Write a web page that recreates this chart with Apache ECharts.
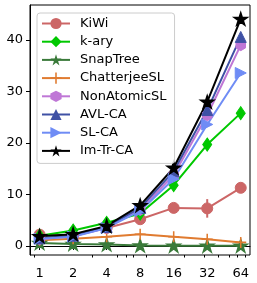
<!DOCTYPE html>
<html><head><meta charset="utf-8">
<script src="https://cdn.jsdelivr.net/npm/echarts@6/dist/echarts.min.js"></script>
<style>html,body{margin:0;padding:0;background:#fff}#c{width:257px;height:283px}</style>
</head><body><div id="c"></div>
<script>
var threads = [1, 2, 4, 8, 16, 32, 64];
var xTickLabels = [1, 2, 4, 8, 16, 32, 64];
var xMinorTicks = [0.9, 3, 5, 6, 7, 9, 20, 30, 40, 50, 60, 70];
var yTickLabels = [0, 10, 20, 30, 40];
var kiwi = [2.2, 2.0, 3.5, 5.2, 7.4, 7.3, 11.3];
var kiwiErr = [0.3, 0.2, 0.2, 0.4, 0.5, 1.8, 0.4];
var kary = [2.0, 3.0, 4.5, 6.3, 11.8, 19.7, 25.8];
var snapTree = [0.6, 0.4, 0.3, 0.1, 0.05, 0.05, 0.05];
var chatterjee = [1.1, 1.4, 1.8, 2.3, 1.8, 1.3, 0.7];
var nonAtomic = [1.3, 1.9, 3.5, 7.0, 13.8, 25.4, 39.0];
var avlCA = [1.5, 2.0, 3.7, 7.4, 14.5, 26.4, 40.6];
var slCA = [1.4, 1.8, 3.5, 6.8, 13.0, 23.6, 33.6];
var imTrCA = [1.9, 2.3, 3.9, 7.9, 15.2, 28.0, 44.1];

var STAR = 'path://M50 0 L61.23 34.55 L97.55 34.55 L68.16 55.9 L79.39 90.45 L50 69.1 L20.61 90.45 L31.84 55.9 L2.45 34.55 L38.77 34.55 Z';
var HEX = 'path://M50 0 L93.3 25 L93.3 75 L50 100 L6.7 75 L6.7 25 Z';
var PLUS = 'path://M43 0 H57 V43 H100 V57 H57 V100 H43 V57 H0 V43 H43 Z';

function pairs(arr) { return threads.map(function (t, i) { return [t, arr[i]]; }); }

function lineSeries(name, arr, color, symbol, size, extra, border) {
  var s = {
    name: name, type: 'line', data: pairs(arr),
    symbol: symbol, symbolSize: size, symbolKeepAspect: true,
    lineStyle: { color: color, width: 2 },
    itemStyle: { color: color, borderColor: color, borderWidth: border == null ? 1 : border },
    emphasis: { disabled: true },
    animation: false
  };
  if (extra) for (var k in extra) s[k] = extra[k];
  return s;
}

var errData = threads.map(function (t, i) { return [t, kiwi[i] - kiwiErr[i], kiwi[i] + kiwiErr[i]]; });

var chart = echarts.init(document.getElementById('c'), null, { renderer: 'canvas' });
chart.setOption({
  animation: false,
  backgroundColor: '#fff',
  textStyle: { fontFamily: 'DejaVu Sans' },
  grid: { left: 30, right: 7, top: 5, bottom: 28, show: true, borderColor: '#000', borderWidth: 1, outerBoundsMode: 'none' },
  legend: {
    left: 37, top: 13, orient: 'vertical',
    itemWidth: 28, itemHeight: 14, itemGap: 5.2,
    padding: [4, 8, 6, 4],
    borderColor: '#cccccc', borderWidth: 1, borderRadius: 3,
    backgroundColor: 'rgba(255,255,255,0.85)',
    itemStyle: { borderWidth: 0 },
    textStyle: { fontSize: 13, color: '#000', fontFamily: 'DejaVu Sans', padding: [0, 0, 0, 5] },
    data: ['KiWi', 'k-ary', 'SnapTree', 'ChatterjeeSL', 'NonAtomicSL', 'AVL-CA', 'SL-CA', 'Im-Tr-CA']
  },
  xAxis: [{
    type: 'log', logBase: 2, min: 0.82, max: 77.5,
    axisLine: { show: true, lineStyle: { color: '#000', width: 1 } },
    axisTick: { show: true, length: 4, lineStyle: { color: '#000' }, customValues: xTickLabels },
    axisLabel: { show: true, color: '#000', fontSize: 13, margin: 12, customValues: xTickLabels, formatter: function (v) { return String(v); } },
    splitLine: { show: false }, minorTick: { show: false }
  }, {
    type: 'log', logBase: 2, min: 0.82, max: 77.5, position: 'bottom', offset: 0,
    axisLine: { show: false },
    axisTick: { show: true, length: 2.5, lineStyle: { color: '#000', width: 1 }, customValues: xMinorTicks },
    axisLabel: { show: false },
    splitLine: { show: false }
  }],
  yAxis: {
    type: 'value', min: -1.75, max: 46.8,
    axisLine: { show: true, lineStyle: { color: '#000', width: 1 } },
    axisTick: { show: true, length: 4, lineStyle: { color: '#000' }, customValues: yTickLabels },
    axisLabel: { show: true, color: '#000', fontSize: 13, margin: 7, customValues: yTickLabels },
    splitLine: { show: false }
  },
  series: [
    lineSeries('KiWi', kiwi, '#cc6666', 'circle', 11),
    {
      type: 'custom', data: errData, silent: true, animation: false,
      renderItem: function (params, api) {
        var a = api.coord([api.value(0), api.value(1)]);
        var b = api.coord([api.value(0), api.value(2)]);
        return { type: 'line', shape: { x1: a[0], y1: a[1], x2: b[0], y2: b[1] }, style: { stroke: '#cc6666', lineWidth: 2 } };
      },
      encode: { x: 0, y: [1, 2] }
    },
    lineSeries('k-ary', kary, '#00c800', 'diamond', [9, 13]),
    lineSeries('SnapTree', snapTree, '#3a7a3a', STAR, 13, null, 1.5),
    lineSeries('ChatterjeeSL', chatterjee, '#e07b30', PLUS, 11, null, 0),
    lineSeries('NonAtomicSL', nonAtomic, '#bf77d6', HEX, 11),
    lineSeries('AVL-CA', avlCA, '#3f51a5', 'triangle', 11),
    lineSeries('SL-CA', slCA, '#6f8cf5', 'triangle', 11, { symbolRotate: -90 }),
    lineSeries('Im-Tr-CA', imTrCA, '#000000', STAR, 13, null, 1.5)
  ]
});
</script>
</body></html>
